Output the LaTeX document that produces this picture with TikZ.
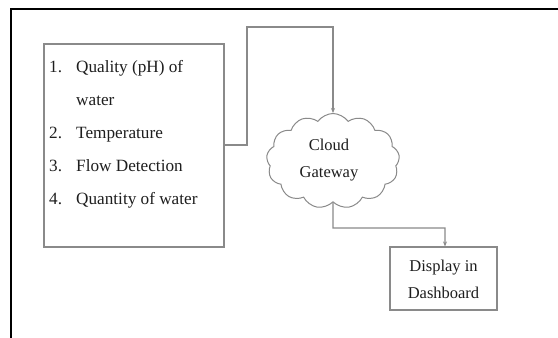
\documentclass[tikz,border=0pt]{standalone}
\usepackage{fontspec}
\setmainfont{Liberation Serif}
\usetikzlibrary{shapes.symbols,arrows.meta}
\definecolor{linegray}{HTML}{8A8A8A}
\definecolor{textgray}{HTML}{1E1E1E}
\tikzset{
  conn/.style={draw=linegray,line width=1.2pt,-{Stealth[length=5pt,width=4pt]}},
  boxed/.style={draw=linegray,line width=1.2pt},
  txt/.style={text=textgray,font=\fontsize{17.2}{26}\selectfont,inner sep=0pt},
  ctxt/.style={text=textgray,font=\fontsize{16.5}{27}\selectfont,inner sep=0pt,align=center},
}
\begin{document}
\begin{tikzpicture}[x=1pt,y=-1pt]
\useasboundingbox (0,0) rectangle (558,338);
\fill[white] (0,0) rectangle (558,338);
% frame
\draw[black,line width=2pt] (11,338) -- (11,8.5) -- (558,8.5);
% left box
\node[boxed,minimum width=180pt,minimum height=203pt,inner sep=0pt] (src) at (134,145.5) {};
\node[txt,anchor=base west] (n1) at (49,72) {1.};
\node[txt,anchor=base west] (t1) at (76,72) {Quality (pH) of};
\node[txt,anchor=base west] (t1b) at (76,105) {water};
\node[txt,anchor=base west] (n2) at (49,138) {2.};
\node[txt,anchor=base west] (t2) at (76,138) {Temperature};
\node[txt,anchor=base west] (n3) at (49,171) {3.};
\node[txt,anchor=base west] (t3) at (76,171) {Flow Detection};
\node[txt,anchor=base west] (n4) at (49,204) {4.};
\node[txt,anchor=base west] (t4) at (76,204) {Quantity of water};
% cloud
\node[cloud,cloud puffs=13,cloud puff arc=110,cloud ignores aspect,draw=linegray,line width=1pt,
      minimum width=133pt,minimum height=95pt,inner sep=0pt] (cloud) at (333,161) {};
\node[ctxt] (ctext) at (329,160) {Cloud\\Gateway};
% display box
\node[boxed,minimum width=107pt,minimum height=63pt,inner sep=0pt] (disp) at (443.5,278.5) {};
\node[ctxt] (dtext) at (443.5,279) {Display in\\Dashboard};
% connectors
\coordinate (c1) at (247,145);
\coordinate (c2) at (247,27);
\coordinate (c3) at (333,27);
\draw[conn] (src.east |- c1) -- (c1) -- (c2) -- (c3) -- (cloud.north);
\coordinate (c4) at (333,228);
\coordinate (c5) at (445,228);
\draw[conn] (cloud.south) -- (c4) -- (c5) -- (disp.north -| c5);
\end{tikzpicture}
\end{document}
